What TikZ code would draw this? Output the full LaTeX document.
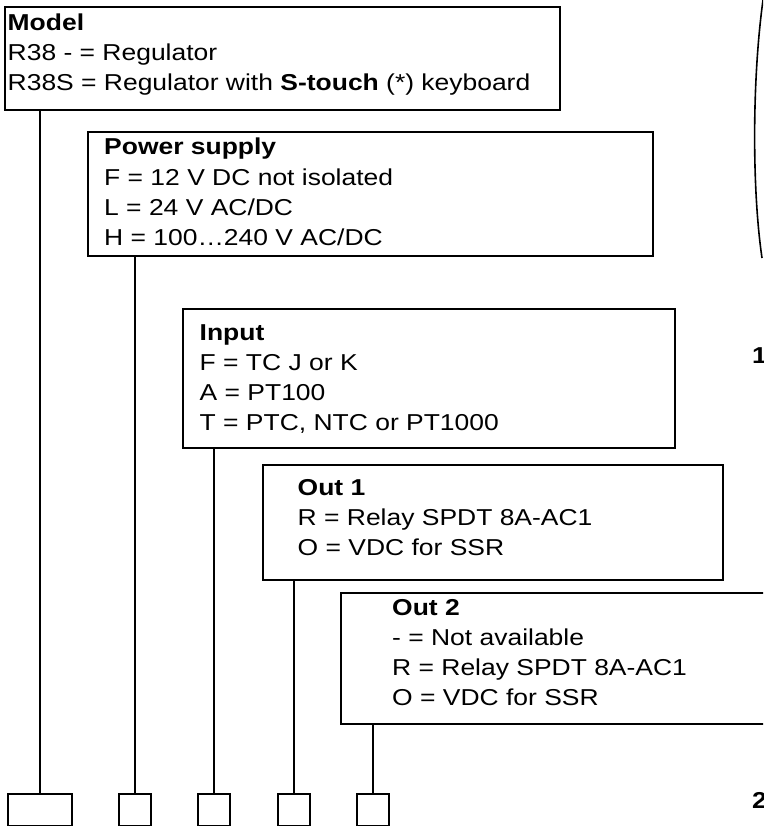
\documentclass[tikz,border=0pt]{standalone}
\usepackage{fontspec}
\setmainfont{Liberation Sans}[FakeStretch=1.15]
\usetikzlibrary{positioning}

\tikzset{
  kasten/.style={draw, line width=1.6pt, inner sep=0pt, anchor=north west},
  txt/.style={anchor=base west, align=left, inner sep=0pt, font=\fontsize{23}{30}\selectfont},
  feld/.style={draw, line width=1.6pt, minimum height=32pt, inner sep=0pt, anchor=north west},
  linie/.style={line width=1.6pt},
}

\begin{document}
\begin{tikzpicture}[x=1pt, y=-1pt] % 1 Pixel = 1pt, y nach unten
\useasboundingbox (0,0) rectangle (763,826);
\clip (0,0) rectangle (763,826);

% Kästen
\node[kasten, minimum width=555pt, minimum height=103pt] (model) at (4,6) {};
\node[kasten, minimum width=565pt, minimum height=124pt] (power) at (87,131) {};
\node[kasten, minimum width=492pt, minimum height=139pt] (input) at (182,308) {};
\node[kasten, minimum width=460pt, minimum height=115pt] (out1) at (262,464) {};
\node[kasten, minimum width=460pt, minimum height=131pt] (out2) at (340,592) {};

% Texte (Punkt = Grundlinie der letzten Zeile)
\node[txt] (tmodel) at (7.5,90.5) {\textbf{Model}\\R38 - = Regulator\\R38S = Regulator with \textbf{S-touch} (*) keyboard};
\node[txt] (tpower) at (104,245) {\textbf{Power supply}\\F = 12 V DC not isolated\\L = 24 V AC/DC\\H = 100…240 V AC/DC};
\node[txt] (tinput) at (199.5,430) {\textbf{Input}\\F = TC J or K\\A = PT100\\T = PTC, NTC or PT1000};
\node[txt] (tout1) at (297.5,555) {\textbf{Out 1}\\R = Relay SPDT 8A-AC1\\O = VDC for SSR};
\node[txt] (tout2) at (392,705) {\textbf{Out 2}\\- = Not available\\R = Relay SPDT 8A-AC1\\O = VDC for SSR};

% Felder unten
\node[feld, minimum width=64pt] (f1) at (7,793) {};
\foreach \x/\n in {118/2, 197/3, 277/4, 356/5}
  \node[feld, minimum width=32pt] (f\n) at (\x,793) {};

% Verbindungen
\foreach \n/\k in {1/model, 2/power, 3/input, 4/out1, 5/out2}
  \draw[linie] (f\n.north) -- (f\n.north |- \k.south);

% Rand rechts
\draw[linie] (763,0) .. controls (752,80) and (752,190) .. (762,258);
\node[txt, font=\fontsize{23}{30}\selectfont\bfseries] (n1) at (752,363) {1};
\node[txt, font=\fontsize{23}{30}\selectfont\bfseries] (n2) at (752,808) {2};

\end{tikzpicture}
\end{document}
